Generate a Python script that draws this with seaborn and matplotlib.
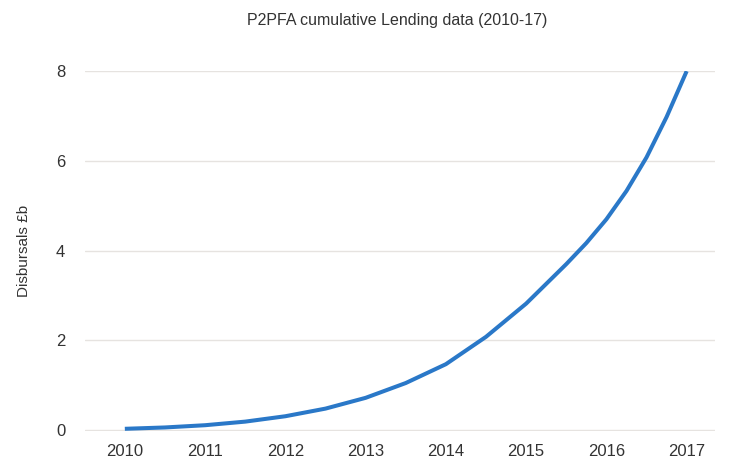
import matplotlib; matplotlib.use('Agg')
import matplotlib.pyplot as plt
import seaborn as sns
import pandas as pd

# values (half-year steps, quarters near the end)
years = [2010.0, 2010.5, 2011.0, 2011.5, 2012.0, 2012.5, 2013.0, 2013.5,
         2014.0, 2014.5, 2015.0, 2015.5, 2015.75, 2016.0, 2016.25, 2016.5,
         2016.75, 2017.0]
disbursals = [0.03, 0.06, 0.11, 0.19, 0.31, 0.48, 0.72, 1.05,
              1.47, 2.08, 2.82, 3.7, 4.17, 4.7, 5.33, 6.08,
              6.98, 8.0]
tick_years = [2010, 2011, 2012, 2013, 2014, 2015, 2016, 2017]
y_ticks = [0, 2, 4, 6, 8]

df = pd.DataFrame({'year': years, 'value': disbursals})

sns.set_style('white')
plt.rcParams['font.family'] = ['Liberation Sans', 'DejaVu Sans']
fig = plt.figure(figsize=(7.43, 4.62), dpi=100)
ax = fig.add_axes([0.114, 0.067, 0.848, 0.779])
sns.lineplot(data=df, x='year', y='value', ax=ax, color='#2a78c8', lw=2.9,
             solid_capstyle='butt', solid_joinstyle='round')
ax.set_xlim(2009.5, 2017.35)
ax.set_ylim(-0.02, 8.0)
ax.set_xticks(tick_years)
ax.set_xticklabels([str(y) for y in tick_years])
ax.set_yticks(y_ticks)
ax.grid(axis='y', color='#e6e3e0', lw=1)
ax.set_axisbelow(True)
for s in ax.spines.values():
    s.set_visible(False)
ax.tick_params(axis='x', length=0, pad=9, labelsize=12, labelcolor='#333333')
ax.tick_params(axis='y', length=0, pad=14, labelsize=12, labelcolor='#333333')
ax.set_xlabel('')
ax.set_ylabel('Disbursals £b', fontsize=11, color='#333333', labelpad=18)
fig.text(0.535, 0.955, 'P2PFA cumulative Lending data (2010-17)', ha='center',
         va='center', fontsize=11.5, color='#333333')
fig.savefig('out.png', dpi=100)
